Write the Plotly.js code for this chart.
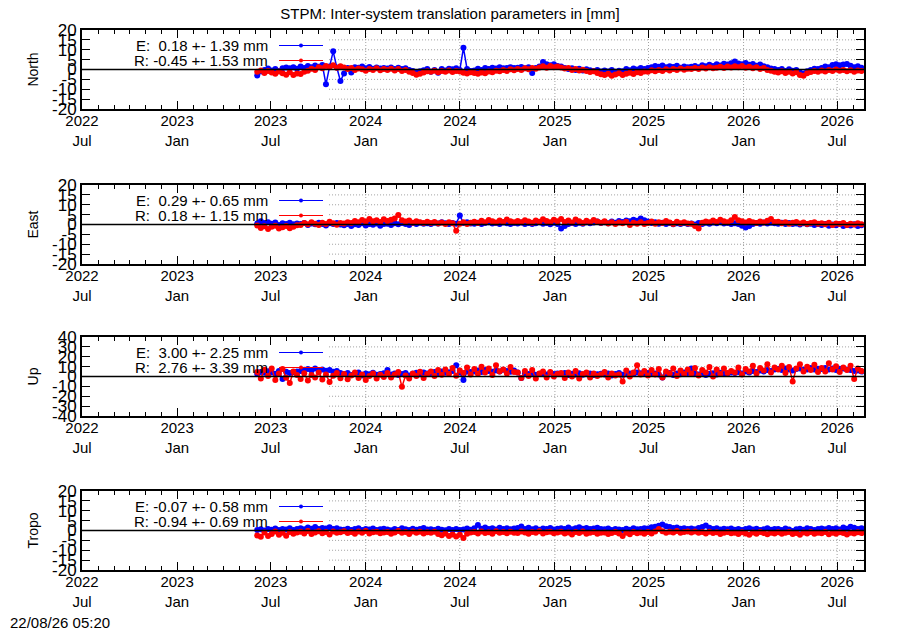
<!DOCTYPE html>
<html>
<head>
<meta charset="utf-8">
<script src="https://cdn.plot.ly/plotly-3.0.1.min.js"></script>
<style>html,body{margin:0;padding:0;background:#fff;}#chart{width:900px;height:630px;}</style>
</head>
<body>
<div id="chart"></div>
<script>
// ---- sampling grid (weekly samples) ----
const sampleStart = '2023-06-05';
const sampleStepDays = 7;

// ---- axis ticks ----
const xRange = ['2022-07-01', '2026-08-22'];
const xTickVals = ['2022-07-01','2023-01-01','2023-07-01','2024-01-01','2024-07-01','2025-01-01','2025-07-01','2026-01-01','2026-07-01'];
const xTickText = ['2022<br>Jul','2023<br>Jan','2023<br>Jul','2024<br>Jan','2024<br>Jul','2025<br>Jan','2025<br>Jul','2026<br>Jan','2026<br>Jul'];
const yTicks20 = [-20,-15,-10,-5,0,5,10,15,20];
const yTicks40 = [-40,-30,-20,-10,0,10,20,30,40];
const gridStart = '2023-10-22';

// ---- panel names and legend statistics ----
const panelNames = ['North', 'East', 'Up', 'Tropo'];
const statsE = ['E:\u00a0\u00a00.18 +- 1.39 mm', 'E:\u00a0\u00a00.29 +- 0.65 mm', 'E:\u00a0\u00a03.00 +- 2.25 mm', 'E:\u00a0-0.07 +- 0.58 mm'];
const statsR = ['R:\u00a0-0.45 +- 1.53 mm', 'R:\u00a0\u00a00.18 +- 1.15 mm', 'R:\u00a0\u00a02.76 +- 3.39 mm', 'R:\u00a0-0.94 +- 0.69 mm'];
const titleText = 'STPM: Inter-system translation parameters in [mm]';
const stampText = '22/08/26 05:20';

// ---- series values [mm] ----
const northE = [
 -3.0,-1.0,-0.2,0.5,-0.5,0.3,-0.8,0.6,1.0,0.6,1.2,0.4,
 1.5,0.8,1.8,1.2,2.0,1.4,2.3,-7.5,1.5,9.2,1.0,-5.8,
 -2.0,0.8,-1.5,1.2,0.9,1.5,0.6,1.3,0.4,1.0,0.5,0.8,
 0.5,1.0,0.3,0.9,0.2,0.6,-0.3,-0.8,-1.5,-0.9,-0.4,0.2,
 -1.2,-0.3,-1.6,0.2,-0.5,0.4,0.1,0.6,-0.2,11.0,0.3,-0.8,
 -0.5,0.4,-0.2,0.8,0.3,0.9,0.5,1.2,0.6,0.8,1.1,0.7,
 0.9,1.3,0.6,1.1,-1.8,0.8,1.5,3.8,2.6,2.2,2.6,1.8,
 1.5,0.8,0.3,0.6,-0.2,0.4,-0.5,0.1,-0.4,-0.8,-0.3,-1.0,
 -0.5,-1.0,-0.3,-1.2,-0.6,-0.9,0.2,-0.4,0.5,0.0,0.8,0.3,
 0.8,1.2,1.8,1.4,2.0,1.1,1.6,1.3,1.9,0.9,1.5,1.2,
 1.4,1.8,1.2,2.1,1.6,2.4,1.8,2.6,2.0,2.9,2.5,3.2,
 4.0,3.1,2.6,3.3,2.4,2.8,1.9,2.5,1.6,1.2,0.5,0.2,
 -0.2,0.3,-0.8,0.1,-0.6,-0.3,-1.5,-2.0,-0.9,-0.2,0.4,0.2,
 0.8,1.5,1.2,2.3,2.7,2.1,2.5,2.8,1.9,1.2,1.6,0.9];
const northR = [
 -1.2,-0.5,-1.8,-0.8,-1.5,-2.2,-1.0,-1.9,-2.6,-1.4,-2.8,-2.0,
 -2.3,-1.2,-0.6,0.4,-0.2,1.1,0.6,1.8,1.2,2.1,0.9,1.6,
 1.0,0.2,0.8,-0.3,0.5,0.1,-0.6,0.3,-0.2,0.6,-0.4,0.2,
 -0.3,0.4,-0.5,0.2,-0.8,-0.2,-1.2,-1.8,-2.6,-2.1,-1.5,-0.9,
 -1.2,-0.6,-1.4,-0.8,-1.1,-0.5,-1.3,-0.7,-1.0,-1.6,-2.0,-1.4,
 -1.8,-2.2,-1.5,-1.9,-1.0,-1.4,-0.6,-0.9,-0.3,-0.7,0.1,-0.4,
 0.3,-0.2,0.6,0.1,0.8,0.4,1.0,1.6,0.9,1.8,1.2,1.5,
 1.0,0.5,0.8,-0.2,0.3,-0.5,-0.1,-0.8,-1.3,-0.9,-1.8,-2.4,
 -2.8,-2.1,-3.2,-2.5,-1.9,-2.8,-2.2,-1.6,-2.3,-1.4,-1.8,-1.0,
 -1.2,-0.4,-0.9,-0.2,-0.7,0.1,-0.5,0.3,-0.3,0.5,-0.1,0.4,
 0.2,0.8,0.3,1.0,0.5,1.2,0.6,0.9,1.4,0.7,1.5,1.0,
 1.6,1.1,1.8,0.9,1.4,0.6,1.2,0.3,0.7,-0.2,-0.6,-1.2,
 -1.5,-0.9,-1.8,-1.2,-2.0,-1.4,-2.8,-3.2,-1.9,-1.3,-0.8,-1.1,
 -0.5,-1.0,-0.3,-0.8,0.0,-0.6,-0.2,-0.9,-0.4,-1.1,-0.5,-0.7];
const eastE = [
 0.5,1.6,0.8,1.2,0.4,1.0,-0.2,0.6,0.3,0.9,0.1,0.5,
 0.2,0.7,-0.3,0.5,0.1,0.9,0.3,-0.5,0.6,0.2,0.8,0.0,
 -0.4,0.3,-0.8,0.1,-0.2,0.6,-0.5,0.2,-0.1,0.5,-0.6,0.3,
 0.4,-0.3,0.6,0.1,0.8,0.3,-0.2,0.7,0.2,0.9,0.4,0.6,
 0.3,0.9,0.5,1.2,0.6,0.2,0.8,0.4,4.6,0.7,1.1,0.5,
 0.4,0.9,0.2,0.7,1.1,0.5,0.8,0.3,1.0,0.6,0.2,0.8,
 0.5,1.0,0.3,0.8,0.2,0.6,1.1,0.4,0.7,0.1,0.9,0.3,
 -2.0,-0.8,0.3,0.7,0.2,0.9,0.4,1.2,0.6,1.0,1.5,0.8,
 1.2,0.6,1.5,0.9,1.8,1.3,2.0,1.6,2.4,1.9,3.0,2.2,
 1.5,0.8,1.2,0.4,0.9,0.2,0.7,0.1,0.6,0.3,0.8,0.2,
 0.5,0.0,0.7,0.3,0.9,0.4,1.0,0.6,1.2,0.5,0.8,0.3,
 0.6,0.2,-0.6,-1.5,-0.8,0.3,0.7,0.4,1.0,0.5,0.9,0.6,
 0.4,0.9,0.3,0.7,0.2,0.5,0.0,0.6,0.1,0.4,-0.2,0.3,
 -0.3,0.2,-0.6,0.0,-0.4,0.3,-0.8,-0.2,-0.5,0.1,-0.7,-0.4];
const eastR = [
 -0.5,-1.8,-0.9,-2.3,-1.2,-0.6,-2.0,-1.4,-0.8,-1.9,-1.1,-0.4,
 -0.2,0.8,0.1,1.2,0.4,-0.3,0.9,0.2,1.4,0.6,-0.1,0.7,
 0.5,1.2,0.8,1.8,1.1,2.3,1.5,2.8,1.7,2.2,1.3,2.6,
 1.8,2.4,3.1,4.8,2.2,1.5,2.0,0.9,1.6,1.1,0.7,1.4,
 0.8,1.3,0.5,1.0,0.3,1.2,0.6,-3.2,0.4,1.1,0.2,0.9,
 1.4,0.8,1.9,1.2,2.3,1.6,1.0,2.0,1.3,2.5,1.7,1.1,
 1.8,1.2,2.2,1.5,0.9,2.0,1.4,2.6,1.8,1.1,2.4,1.6,
 2.8,1.3,2.0,1.0,2.5,1.7,0.8,1.9,1.2,2.3,1.5,0.9,
 1.6,0.5,1.2,0.2,1.0,0.6,1.4,-0.2,0.9,0.4,1.1,0.3,
 0.8,1.5,0.4,1.2,0.7,1.8,1.0,0.3,1.4,0.6,1.1,0.5,
 0.4,-0.8,-2.0,0.9,1.5,1.1,2.0,1.3,2.4,1.6,1.2,2.1,
 3.8,2.2,1.6,1.0,1.8,1.2,0.7,1.5,1.0,1.9,2.8,1.3,
 1.4,0.6,1.1,0.4,0.9,1.3,0.5,1.0,0.2,0.8,1.2,0.4,
 0.6,0.1,0.9,-0.2,0.5,0.2,0.7,-0.3,0.4,0.0,0.6,0.1];
const upE = [
 2.5,4.5,3.8,5.2,4.0,2.8,5.5,-2.5,4.8,3.5,4.2,5.0,
 5.5,6.8,7.5,6.0,8.0,6.5,7.2,5.8,6.5,4.8,5.5,3.5,
 2.5,3.5,1.5,2.8,4.0,1.0,3.0,2.2,3.8,1.8,2.5,3.2,
 6.5,2.0,3.0,1.5,2.5,3.5,1.0,2.8,3.8,2.2,4.0,3.0,
 3.5,4.5,2.5,5.0,3.8,4.2,5.5,11.5,4.0,-3.5,5.0,4.5,
 5.0,6.0,4.5,6.5,5.5,4.8,6.2,5.0,6.8,5.5,4.8,6.0,
 4.0,-1.5,3.0,2.5,3.5,1.8,2.8,3.2,2.0,3.8,2.5,3.0,
 2.5,3.5,1.5,2.8,2.0,3.2,1.8,2.5,3.0,1.5,2.2,2.8,
 2.0,3.0,1.0,2.5,3.5,1.8,2.2,3.0,2.5,4.0,3.2,2.8,
 3.5,2.5,3.0,2.0,-1.0,2.5,3.5,1.5,3.0,2.2,4.0,3.5,
 8.0,3.0,2.0,3.5,1.5,2.8,3.2,2.0,3.8,2.5,3.0,4.0,
 3.5,4.5,3.0,5.0,4.0,5.5,4.5,6.0,5.0,6.5,5.5,7.0,
 7.5,6.5,8.0,7.0,6.0,7.5,8.0,6.8,7.2,8.5,7.0,7.8,
 7.5,8.5,7.0,8.0,6.5,7.8,8.2,7.0,6.5,5.5,6.0,5.0];
const upR = [
 4.5,-2.0,6.8,0.5,8.2,-3.5,3.0,7.5,-1.2,-6.5,5.0,1.5,
 -2.5,3.2,-4.0,1.5,-1.0,4.0,-3.0,2.0,-5.5,0.8,3.5,-1.8,
 2.5,-2.8,1.0,4.0,-1.5,2.0,-3.5,0.5,3.0,-2.0,1.8,-0.5,
 3.5,-1.0,2.0,4.5,-10.5,1.0,-2.0,3.0,0.5,4.8,-1.5,2.5,
 5.0,0.5,6.5,1.8,7.0,2.5,8.5,0.8,6.0,3.5,9.0,2.0,
 7.5,2.8,10.0,4.0,8.0,1.5,11.5,5.0,7.0,3.0,9.5,4.5,
 4.0,-1.5,5.5,0.5,6.5,-2.0,3.0,5.0,-1.0,4.5,0.0,2.5,
 3.5,-1.5,4.0,0.0,5.5,-2.0,2.5,4.0,-1.0,3.0,0.5,2.0,
 4.5,-1.0,3.0,1.0,2.0,-5.0,6.0,0.0,4.0,11.5,2.0,5.5,
 1.0,6.5,2.0,7.5,-1.0,5.0,3.0,8.0,0.5,6.0,2.5,7.0,
 3.0,8.5,1.0,6.5,4.0,9.5,0.0,7.0,2.5,8.0,3.5,5.5,
 4.0,9.0,2.0,7.5,5.0,11.0,3.0,8.5,6.0,12.5,4.0,9.0,
 7.0,11.0,3.5,9.5,-5.0,8.0,12.5,5.0,10.0,6.5,12.0,4.5,
 8.5,5.0,13.5,7.0,10.5,4.5,9.0,6.5,11.0,-2.5,8.0,5.5];
const tropoE = [
 0.3,0.6,0.0,0.8,0.4,1.0,0.2,0.7,0.5,1.1,0.3,0.8,
 1.2,0.6,1.5,0.9,1.8,0.7,1.3,1.0,1.6,0.8,1.1,0.5,
 0.4,0.9,0.2,0.7,1.1,0.3,0.8,0.5,1.0,0.2,0.6,0.9,
 0.5,0.1,0.8,0.3,1.2,0.6,0.2,0.9,0.4,0.7,1.3,0.5,
 0.6,0.2,0.9,0.4,0.1,0.7,0.3,0.8,0.2,0.5,1.0,0.4,
 1.2,2.8,0.9,1.5,0.7,1.1,0.5,1.4,0.8,1.2,0.6,1.0,
 1.3,2.0,0.8,1.4,0.6,1.1,0.4,1.0,0.7,1.3,0.5,0.9,
 1.2,0.8,1.5,0.6,1.1,1.7,0.9,1.3,0.7,1.0,1.4,0.8,
 0.6,1.0,0.3,0.8,0.5,0.2,0.9,0.4,1.1,0.6,0.8,1.2,
 1.0,1.6,1.9,2.4,3.1,2.2,1.8,1.3,1.5,0.9,1.2,0.7,
 1.0,0.6,1.3,1.8,2.5,1.4,0.8,1.1,0.5,0.9,0.6,1.0,
 0.4,0.8,0.2,0.7,1.1,0.5,0.9,0.3,0.6,1.2,0.4,0.8,
 0.7,0.3,1.0,0.5,-0.2,0.6,0.9,0.4,1.1,0.7,0.2,0.8,
 1.0,0.6,1.3,0.8,1.1,0.5,1.5,0.9,1.9,1.4,0.8,1.2];
const tropoR = [
 -2.5,-3.2,-1.0,-2.8,-1.8,-0.5,-2.2,-1.2,-2.6,-0.8,-1.6,-1.0,
 -0.6,-1.5,-0.3,-1.8,-1.0,-0.4,-1.4,-0.8,-2.0,-0.5,-1.2,-0.9,
 -0.4,-1.3,-0.8,-1.7,-0.5,-1.1,-0.2,-1.5,-0.9,-0.6,-1.4,-1.0,
 -0.7,-1.6,-1.0,-0.3,-1.2,-0.8,-1.8,-0.5,-1.1,-0.6,-1.5,-0.9,
 -1.2,-0.6,-1.8,-2.4,-1.5,-2.8,-2.0,-3.0,-2.2,-3.8,-1.6,-1.0,
 -0.8,-1.5,-0.5,-1.3,-0.9,-1.7,-0.4,-1.2,-0.7,-1.4,-0.6,-1.1,
 -1.3,-0.5,-1.0,-1.6,-0.7,-1.2,-0.4,-1.5,-0.9,-0.6,-1.4,-1.0,
 -0.6,-1.5,-1.0,-2.0,-0.8,-1.3,-0.5,-1.7,-1.1,-0.7,-1.6,-1.2,
 -1.0,-1.8,-1.3,-0.7,-1.5,-2.8,-1.2,-1.9,-0.8,-1.4,-1.0,-1.6,
 -0.8,-1.5,-0.5,0.8,-0.4,-1.2,-0.6,-1.0,-0.3,-1.1,-0.7,-0.5,
 -1.0,-0.5,-1.2,-0.8,-1.5,-0.6,-1.3,-0.9,-1.8,-1.1,-0.7,-1.4,
 -1.2,-1.8,-0.9,-1.5,-2.2,-1.0,-1.6,-0.8,-1.3,-1.9,-1.1,-1.5,
 -0.9,-1.6,-1.2,-0.7,-1.8,-1.3,-2.1,-1.0,-1.5,-0.8,-1.7,-1.2,
 -1.4,-0.8,-1.9,-1.2,-1.6,-0.9,-1.3,-2.0,-1.1,-1.5,-0.9,-1.3];

// ---- build sample dates ----
const startMs = Date.parse(sampleStart + 'T00:00:00Z');
const dates = northE.map((_, i) => new Date(startMs + i * sampleStepDays * 86400000).toISOString().slice(0, 10));

const seriesE = [northE, eastE, upE, tropoE];
const seriesR = [northR, eastR, upR, tropoR];
const yTickSets = [yTicks20, yTicks20, yTicks40, yTicks20];

// ---- geometry (pixels of the 900x630 page) ----
const W = 900, H = 630;
const plotL = 82, plotR = 864;
const panelTop = [30, 185, 337, 491];
const panelH = 79;
const px = v => v / W;
const py = v => 1 - v / H;

const FONT = 'Liberation Sans, Arial, Helvetica, sans-serif';
const BLUE = '#0000ff', RED = '#ff0000';

const traces = [];
const shapes = [];
const annotations = [];
const layout = {
  width: W, height: H,
  margin: {l: 0, r: 0, t: 0, b: 0},
  paper_bgcolor: '#ffffff', plot_bgcolor: '#ffffff',
  font: {family: FONT, size: 15, color: '#000'},
  showlegend: false,
  title: {text: titleText, font: {family: FONT, size: 15, color: '#000'},
          x: 0.5, xref: 'container', xanchor: 'center', y: 1 - 14 / H, yref: 'container', yanchor: 'middle'}
};

panelNames.forEach((name, k) => {
  const s = k === 0 ? '' : String(k + 1);
  const xa = 'x' + s, ya = 'y' + s;
  const yt = yTickSets[k];
  const top = panelTop[k];
  layout['xaxis' + s] = {
    domain: [px(plotL), px(plotR)], anchor: ya, type: 'date', range: xRange,
    tickmode: 'array', tickvals: xTickVals, ticktext: xTickText,
    ticks: 'inside', ticklen: 8, tickwidth: 1, tickcolor: '#000', ticklabelstandoff: -3,
    showline: true, linewidth: 2, linecolor: '#000', mirror: 'allticks',
    showgrid: false, zeroline: false, fixedrange: true,
    tickfont: {family: FONT, size: 15, color: '#000'},
    minor: {ticks: 'inside', ticklen: 4, tickwidth: 1, tickcolor: '#000', dtick: 'M1', tick0: '2022-07-01', showgrid: false}
  };
  layout['yaxis' + s] = {
    domain: [py(top + panelH), py(top)], anchor: xa, range: [yt[0], yt[yt.length - 1]],
    tickmode: 'array', tickvals: yt, ticktext: yt.map(String),
    ticks: 'inside', ticklen: 8, tickwidth: 1, tickcolor: '#000',
    showline: true, linewidth: 2, linecolor: '#000', mirror: 'allticks',
    showgrid: false, zeroline: false, fixedrange: true,
    tickfont: {family: FONT, size: 17, color: '#000'},
    title: {text: name, font: {family: FONT, size: 14, color: '#000'}, standoff: 10}
  };

  // dotted grid (only right of the key area)
  yt.slice(1, -1).forEach(v => {
    if (v === 0) return;
    shapes.push({type: 'line', xref: xa, yref: ya, x0: gridStart, x1: xRange[1], y0: v, y1: v,
      line: {color: '#a0a0a0', width: 1, dash: '1px,2px'}, layer: 'below'});
  });
  xTickVals.forEach(d => {
    if (d < gridStart) return;
    shapes.push({type: 'line', xref: xa, yref: ya + ' domain', x0: d, x1: d, y0: 0, y1: 1,
      line: {color: '#a0a0a0', width: 1, dash: '1px,2px'}, layer: 'below'});
  });

  traces.push({x: dates, y: seriesE[k], xaxis: xa, yaxis: ya, type: 'scatter', mode: 'lines+markers',
    line: {color: BLUE, width: 1.5}, marker: {color: BLUE, size: 6}, hoverinfo: 'skip'});
  traces.push({x: dates, y: seriesR[k], xaxis: xa, yaxis: ya, type: 'scatter', mode: 'lines+markers',
    line: {color: RED, width: 1.5}, marker: {color: RED, size: 6}, hoverinfo: 'skip'});

  // zero line on top
  shapes.push({type: 'line', xref: xa + ' domain', yref: ya, x0: 0, x1: 1, y0: 0, y1: 0,
    line: {color: '#000', width: 1.5}, layer: 'above'});

  // key
  const rows = [[statsE[k], BLUE, top + 15.5], [statsR[k], RED, top + 30.5]];
  rows.forEach(([txt, col, yy]) => {
    annotations.push({text: txt, xref: 'paper', yref: 'paper', x: px(270), y: py(yy),
      xanchor: 'right', yanchor: 'middle', showarrow: false, font: {family: FONT, size: 15, color: '#000'}});
    shapes.push({type: 'line', xref: 'paper', yref: 'paper', x0: px(279), x1: px(323), y0: py(yy), y1: py(yy),
      line: {color: col, width: 1}, layer: 'above'});
    shapes.push({type: 'circle', xref: 'paper', yref: 'paper', xsizemode: 'pixel', ysizemode: 'pixel',
      xanchor: px(301), yanchor: py(yy), x0: -2, x1: 2, y0: -2, y1: 2,
      fillcolor: col, line: {color: col, width: 0}, layer: 'above'});
  });
});

annotations.push({text: stampText, xref: 'paper', yref: 'paper', x: px(8), y: py(622),
  xanchor: 'left', yanchor: 'middle', showarrow: false, font: {family: FONT, size: 15, color: '#000'}});

layout.shapes = shapes;
layout.annotations = annotations;

Plotly.newPlot('chart', traces, layout, {displayModeBar: false, staticPlot: true});
</script>
</body>
</html>
